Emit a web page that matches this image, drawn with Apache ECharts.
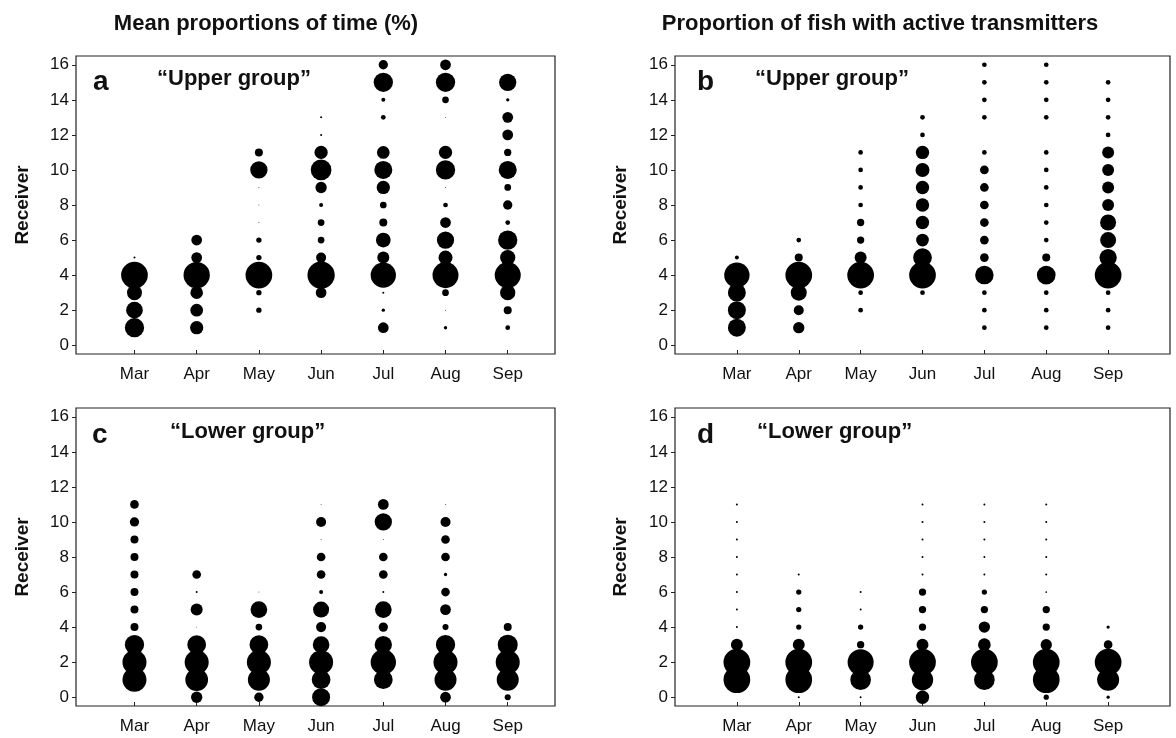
<!DOCTYPE html>
<html>
<head>
<meta charset="utf-8">
<script src="https://cdn.jsdelivr.net/npm/echarts@6/dist/echarts.min.js"></script>
<style>
  html, body { margin: 0; padding: 0; background: #fff; }
  #chart { width: 1176px; height: 738px; }
</style>
</head>
<body>
<div id="chart"></div>
<script>
const months = ['Mar', 'Apr', 'May', 'Jun', 'Jul', 'Aug', 'Sep'];
const receiverTicks = [0, 2, 4, 6, 8, 10, 12, 14, 16];

// mean proportion of time (%) per receiver, "upper group"  [month, receiver, %]
const timeUpper = [
    ['Mar', 5, 0.25], ['Mar', 4, 44.6], ['Mar', 3, 14], ['Mar', 2, 17.4], ['Mar', 1, 23.3],
    ['Apr', 6, 7.2], ['Apr', 5, 7.2], ['Apr', 4, 43.3], ['Apr', 3, 10], ['Apr', 2, 10], ['Apr', 1, 11],
    ['May', 11, 4], ['May', 10, 18.7], ['May', 9, 0.06], ['May', 8, 0.06], ['May', 7, 0.06],
    ['May', 6, 1.8], ['May', 5, 1.8], ['May', 4, 44.6], ['May', 3, 1.8], ['May', 2, 1.8],
    ['Jun', 13, 0.25], ['Jun', 12, 0.25], ['Jun', 11, 11], ['Jun', 10, 26.8], ['Jun', 9, 8], ['Jun', 8, 1],
    ['Jun', 7, 2.8], ['Jun', 6, 2.8], ['Jun', 5, 6.3], ['Jun', 4, 46.6], ['Jun', 3, 7.2],
    ['Jul', 16, 5.4], ['Jul', 15, 23.3], ['Jul', 14, 1], ['Jul', 13, 1.4], ['Jul', 11, 10], ['Jul', 10, 20.3],
    ['Jul', 9, 11], ['Jul', 8, 2.8], ['Jul', 7, 4], ['Jul', 6, 13.5], ['Jul', 5, 9], ['Jul', 4, 40],
    ['Jul', 3, 0.25], ['Jul', 2, 0.7], ['Jul', 1, 7.2],
    ['Aug', 16, 7.2], ['Aug', 15, 23.3], ['Aug', 14, 2.8], ['Aug', 13, 0.06], ['Aug', 11, 11], ['Aug', 10, 23.3],
    ['Aug', 9, 0.06], ['Aug', 8, 1.4], ['Aug', 7, 7.2], ['Aug', 6, 18.7], ['Aug', 5, 12.3], ['Aug', 4, 42.3],
    ['Aug', 3, 2.8], ['Aug', 2, 0.06], ['Aug', 1, 0.7],
    ['Sep', 15, 18.7], ['Sep', 14, 0.7], ['Sep', 13, 7.2], ['Sep', 12, 7.2], ['Sep', 11, 3.3], ['Sep', 10, 20.3],
    ['Sep', 9, 2.8], ['Sep', 8, 5.4], ['Sep', 7, 1.4], ['Sep', 6, 23.3], ['Sep', 5, 14.6], ['Sep', 4, 42.3],
    ['Sep', 3, 14.6], ['Sep', 2, 4], ['Sep', 1, 1.4]
];

// proportion of fish with active transmitters (%), "upper group"
const fishUpper = [
    ['Mar', 5, 2.2], ['Mar', 4, 90], ['Mar', 3, 45], ['Mar', 2, 45], ['Mar', 1, 45],
    ['Apr', 6, 3.1], ['Apr', 5, 9], ['Apr', 4, 100], ['Apr', 3, 36], ['Apr', 2, 14], ['Apr', 1, 18],
    ['May', 11, 3.1], ['May', 10, 3.1], ['May', 9, 3.1], ['May', 8, 3.1], ['May', 7, 7.5], ['May', 6, 7.5],
    ['May', 5, 20], ['May', 4, 100], ['May', 3, 3.1], ['May', 2, 3.1],
    ['Jun', 13, 3.1], ['Jun', 12, 3.1], ['Jun', 11, 25], ['Jun', 10, 27.5], ['Jun', 9, 25], ['Jun', 8, 25],
    ['Jun', 7, 25], ['Jun', 6, 22.6], ['Jun', 5, 49], ['Jun', 4, 100], ['Jun', 3, 3.1],
    ['Jul', 16, 3.1], ['Jul', 15, 3.1], ['Jul', 14, 3.1], ['Jul', 13, 3.1], ['Jul', 11, 3.1], ['Jul', 10, 10.6],
    ['Jul', 9, 10.6], ['Jul', 8, 10.6], ['Jul', 7, 10.6], ['Jul', 6, 10.6], ['Jul', 5, 10.6], ['Jul', 4, 48],
    ['Jul', 3, 3.1], ['Jul', 2, 3.1], ['Jul', 1, 3.1],
    ['Aug', 16, 3.1], ['Aug', 15, 3.1], ['Aug', 14, 3.1], ['Aug', 13, 3.1], ['Aug', 11, 3.1], ['Aug', 10, 3.1],
    ['Aug', 9, 3.1], ['Aug', 8, 3.1], ['Aug', 7, 3.1], ['Aug', 6, 3.1], ['Aug', 5, 9], ['Aug', 4, 49],
    ['Aug', 3, 3.1], ['Aug', 2, 3.1], ['Aug', 1, 3.1],
    ['Sep', 15, 3.1], ['Sep', 14, 3.1], ['Sep', 13, 3.1], ['Sep', 12, 3.1], ['Sep', 11, 20], ['Sep', 10, 20],
    ['Sep', 9, 20], ['Sep', 8, 20], ['Sep', 7, 36], ['Sep', 6, 36], ['Sep', 5, 42], ['Sep', 4, 100],
    ['Sep', 3, 3.1], ['Sep', 2, 3.1], ['Sep', 1, 3.1]
];

// mean proportion of time (%), "lower group"
const timeLower = [
    ['Mar', 11, 4.7], ['Mar', 10, 5.4], ['Mar', 9, 4], ['Mar', 8, 4], ['Mar', 7, 4], ['Mar', 6, 4],
    ['Mar', 5, 4], ['Mar', 4, 4], ['Mar', 3, 23.3], ['Mar', 2, 36], ['Mar', 1, 36],
    ['Apr', 7, 4.7], ['Apr', 6, 0.25], ['Apr', 5, 9], ['Apr', 4, 0.06], ['Apr', 3, 21.9], ['Apr', 2, 36],
    ['Apr', 1, 32.2], ['Apr', 0, 8],
    ['May', 6, 0.06], ['May', 5, 17.4], ['May', 4, 2.8], ['May', 3, 21.9], ['May', 2, 36], ['May', 1, 30.3],
    ['May', 0, 5.4],
    ['Jun', 11, 0.06], ['Jun', 10, 6.3], ['Jun', 9, 0.06], ['Jun', 8, 4.7], ['Jun', 7, 4.7], ['Jun', 6, 1],
    ['Jun', 5, 16], ['Jun', 4, 6.3], ['Jun', 3, 17.4], ['Jun', 2, 36], ['Jun', 1, 21.9], ['Jun', 0, 20.3],
    ['Jul', 11, 7.2], ['Jul', 10, 18.7], ['Jul', 9, 0.06], ['Jul', 8, 4.7], ['Jul', 7, 4.7], ['Jul', 6, 0.25],
    ['Jul', 5, 17.4], ['Jul', 4, 5.4], ['Jul', 3, 18.7], ['Jul', 2, 40], ['Jul', 1, 21.9],
    ['Aug', 11, 0.06], ['Aug', 10, 6.3], ['Aug', 9, 4.7], ['Aug', 8, 4.7], ['Aug', 7, 0.7], ['Aug', 6, 4.7],
    ['Aug', 5, 7.2], ['Aug', 4, 2.3], ['Aug', 3, 23.3], ['Aug', 2, 36], ['Aug', 1, 30.3], ['Aug', 0, 7.2],
    ['Sep', 4, 4], ['Sep', 3, 25], ['Sep', 2, 36], ['Sep', 1, 30.3], ['Sep', 0, 2.3]
];

// proportion of fish with active transmitters (%), "lower group"
const fishLower = [
    ['Mar', 11, 0.56], ['Mar', 10, 0.56], ['Mar', 9, 0.56], ['Mar', 8, 0.56], ['Mar', 7, 0.56], ['Mar', 6, 0.56],
    ['Mar', 5, 0.56], ['Mar', 4, 0.56], ['Mar', 3, 20], ['Mar', 2, 100], ['Mar', 1, 100],
    ['Apr', 7, 0.56], ['Apr', 6, 3.9], ['Apr', 5, 3.9], ['Apr', 4, 3.9], ['Apr', 3, 20], ['Apr', 2, 100],
    ['Apr', 1, 100], ['Apr', 0, 0.56],
    ['May', 6, 0.56], ['May', 5, 0.56], ['May', 4, 3.9], ['May', 3, 7.5], ['May', 2, 95], ['May', 1, 60],
    ['May', 0, 0.56],
    ['Jun', 11, 0.56], ['Jun', 10, 0.56], ['Jun', 9, 0.56], ['Jun', 8, 0.56], ['Jun', 7, 0.56], ['Jun', 6, 7.5],
    ['Jun', 5, 7.5], ['Jun', 4, 7.5], ['Jun', 3, 20], ['Jun', 2, 100], ['Jun', 1, 64], ['Jun', 0, 25],
    ['Jul', 11, 0.56], ['Jul', 10, 0.56], ['Jul', 9, 0.56], ['Jul', 8, 0.56], ['Jul', 7, 0.56], ['Jul', 6, 3.9],
    ['Jul', 5, 7.5], ['Jul', 4, 18], ['Jul', 3, 22.6], ['Jul', 2, 100], ['Jul', 1, 60],
    ['Aug', 11, 0.56], ['Aug', 10, 0.56], ['Aug', 9, 0.56], ['Aug', 8, 0.56], ['Aug', 7, 0.56], ['Aug', 6, 0.4],
    ['Aug', 5, 7.5], ['Aug', 4, 7.5], ['Aug', 3, 18], ['Aug', 2, 100], ['Aug', 1, 100], ['Aug', 0, 3.9],
    ['Sep', 4, 1.5], ['Sep', 3, 10.6], ['Sep', 2, 100], ['Sep', 1, 68], ['Sep', 0, 1.5]
];

const FONT = 'Liberation Sans, Arial, Helvetica, sans-serif';

function toPoints(rows) {
    return rows.map(r => [months.indexOf(r[0]), r[1], r[2]]);
}

// panel boxes (px)
const panels = [
    {left: 76, top: 56, width: 479, xMin: -0.94, xMax: 6.76, data: timeUpper, k: 4, gap: 44},
    {left: 675, top: 56, width: 495, xMin: -1, xMax: 7, data: fishUpper, k: 2.67, gap: 45},
    {left: 76, top: 408, width: 479, xMin: -0.94, xMax: 6.76, data: timeLower, k: 4, gap: 44},
    {left: 675, top: 408, width: 495, xMin: -1, xMax: 7, data: fishLower, k: 2.67, gap: 45}
];

const grid = [], xAxis = [], yAxis = [], series = [];

panels.forEach((p, i) => {
    grid.push({
        left: p.left, top: p.top, width: p.width, height: 298,
        show: true, borderColor: '#222', borderWidth: 1.2, backgroundColor: 'transparent'
    });
    xAxis.push({
        type: 'value', gridIndex: i, min: p.xMin, max: p.xMax, position: 'bottom',
        axisLine: {show: false, onZero: false},
        splitLine: {show: false},
        axisTick: {show: true, inside: true, length: 4, customValues: [0, 1, 2, 3, 4, 5, 6],
            lineStyle: {color: '#222'}},
        axisLabel: {customValues: [0, 1, 2, 3, 4, 5, 6], formatter: v => months[v],
            fontSize: 17, margin: 12, color: '#111', fontFamily: FONT}
    });
    yAxis.push({
        type: 'value', gridIndex: i, min: -0.5, max: 16.5, position: 'left',
        name: 'Receiver', nameLocation: 'middle', nameRotate: 90, nameGap: p.gap,
        nameTextStyle: {fontSize: 19, fontWeight: 'bold', color: '#111', fontFamily: FONT},
        axisLine: {show: false, onZero: false},
        splitLine: {show: false},
        axisTick: {show: true, inside: false, length: 4, customValues: receiverTicks,
            lineStyle: {color: '#222'}},
        axisLabel: {customValues: receiverTicks, fontSize: 17, margin: 7, color: '#111', fontFamily: FONT}
    });
    series.push({
        type: 'scatter', xAxisIndex: i, yAxisIndex: i,
        data: toPoints(p.data),
        symbol: 'circle',
        symbolSize: val => p.k * Math.sqrt(val[2]),
        itemStyle: {color: '#000', opacity: 1},
        emphasis: {disabled: true}
    });
});

function txt(text, x, y, size, align) {
    return {
        type: 'text', x: x, y: y,
        style: {text: text, fontSize: size, fontWeight: 'bold', fill: '#111', fontFamily: FONT,
            align: align || 'left', verticalAlign: 'middle'}
    };
}

const chart = echarts.init(document.getElementById('chart'));
chart.setOption({
    animation: false,
    backgroundColor: '#fff',
    grid: grid,
    xAxis: xAxis,
    yAxis: yAxis,
    series: series,
    graphic: [
        txt('Mean proportions of time (%)', 266, 24, 22, 'center'),
        txt('Proportion of fish with active transmitters', 880, 24, 22, 'center'),
        txt('a', 93, 82, 28),
        txt('\u201cUpper group\u201d', 157, 79, 22),
        txt('b', 697, 82, 28),
        txt('\u201cUpper group\u201d', 755, 79, 22),
        txt('c', 92, 435, 28),
        txt('\u201cLower group\u201d', 170, 432, 22),
        txt('d', 697, 435, 28),
        txt('\u201cLower group\u201d', 757, 432, 22)
    ]
});
</script>
</body>
</html>
